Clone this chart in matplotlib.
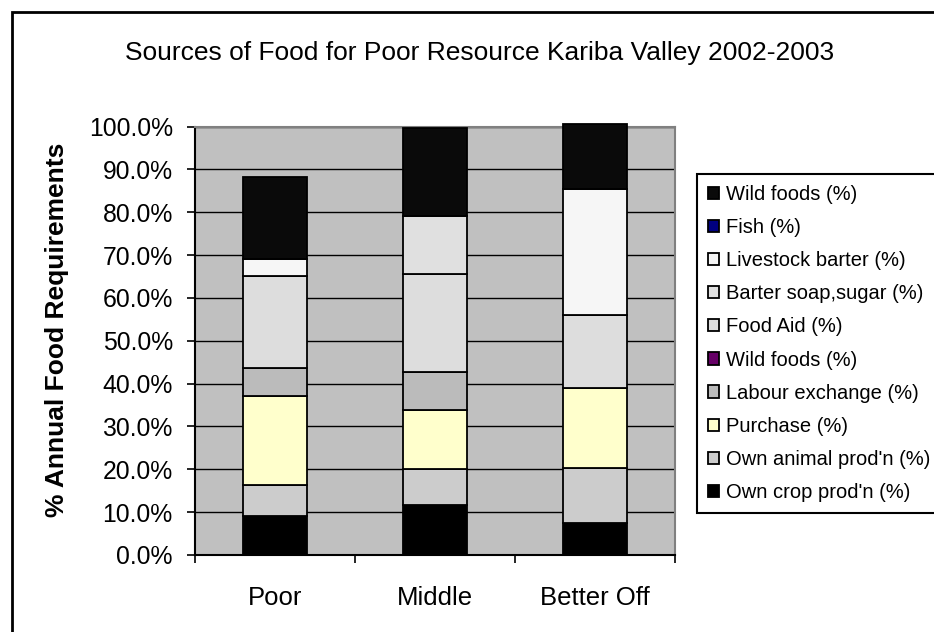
import matplotlib.pyplot as plt
from matplotlib.patches import Rectangle
from matplotlib.ticker import FuncFormatter
import numpy as np

plt.rcParams['font.family'] = ['Liberation Sans', 'DejaVu Sans']

# Wealth groups and food sources (% of annual requirement), bottom to top
groups = ['Poor', 'Middle', 'Better Off']
sources = ["Own crop prod'n (%)", "Own animal prod'n (%)", 'Purchase (%)',
           'Labour exchange (%)', 'Wild foods (%)', 'Food Aid (%)',
           'Barter soap,sugar (%)', 'Livestock barter (%)', 'Fish (%)',
           'Wild foods (%)']
own_crop = [9.0, 11.6, 7.4]
own_animal = [7.3, 8.4, 13.0]
purchase = [20.7, 13.8, 18.6]
labour = [6.7, 8.9, 0.0]
wild_foods_b = [0.0, 0.0, 0.0]
food_aid = [21.4, 22.9, 16.9]
barter_soap = [0.0, 13.4, 0.0]
livestock_barter = [4.0, 0.0, 29.6]
fish = [0.0, 0.0, 0.0]
wild_foods = [19.0, 20.7, 15.2]
colors = ['#000000', '#CCCCCC', '#FFFFCC', '#BBBBBB', '#660066',
          '#DDDDDD', '#E0E0E0', '#F6F6F6', '#000080', '#0A0A0A']

series = [own_crop, own_animal, purchase, labour, wild_foods_b, food_aid,
          barter_soap, livestock_barter, fish, wild_foods]

fig = plt.figure(figsize=(9.34, 6.32), dpi=100)
ax = fig.add_axes([195 / 934, 1 - 555 / 632, 480 / 934, 428.5 / 632])
ax.set_facecolor('#C0C0C0')

x = np.arange(len(groups))
bottom = np.zeros(len(groups))
handles = []
for vals, name, c in zip(series, sources, colors):
    b = ax.bar(x, vals, width=0.4, bottom=bottom, color=c, edgecolor='black',
               linewidth=1.3, label=name, zorder=3, clip_on=False)
    handles.append(b)
    bottom += np.array(vals)

ax.set_xlim(-0.5, 2.5)
ax.set_ylim(0, 100)
ax.set_yticks(np.arange(0, 101, 10))
ax.yaxis.set_major_formatter(FuncFormatter(lambda v, p: f'{v:.1f}%'))
ax.yaxis.grid(True, color='black', linewidth=1.0, zorder=1)
ax.set_axisbelow(True)

ax.set_xticks([-0.5, 0.5, 1.5, 2.5])
ax.set_xticklabels([])
ax.set_xticks(x, minor=True)
ax.set_xticklabels(groups, minor=True)
ax.tick_params(axis='x', which='minor', length=0, pad=22, labelsize=18.5)
ax.tick_params(axis='x', which='major', length=6, width=1.2, direction='out')
ax.tick_params(axis='y', length=6, width=1.2, direction='out', pad=10,
               labelsize=17.8)

for side in ['top', 'right']:
    ax.spines[side].set_color('#808080')
    ax.spines[side].set_linewidth(1.5)
for side in ['left', 'bottom']:
    ax.spines[side].set_color('black')
    ax.spines[side].set_linewidth(1.5)

fig.text(0.513, 1 - 53 / 632, 'Sources of Food for Poor Resource Kariba Valley 2002-2003',
         ha='center', va='center', fontsize=19)
fig.text(57 / 934, 1 - 330 / 632, '% Annual Food Requirements', rotation=90,
         ha='center', va='center', fontsize=19, fontweight='bold')

leg = fig.legend(handles[::-1], sources[::-1], loc='upper left',
                 bbox_to_anchor=(697 / 934, 1 - 174 / 632),
                 bbox_transform=fig.transFigure, fontsize=14.5,
                 frameon=True, fancybox=False, framealpha=1,
                 edgecolor='black', handlelength=0.55, handleheight=0.55,
                 handletextpad=0.35, labelspacing=0.70, borderpad=0.55,
                 borderaxespad=0)
leg.get_frame().set_linewidth(1.5)

# outer chart border (runs off the right and bottom edges)
fig.patches.append(Rectangle((12 / 934, -0.1), 1.2, 1.1 - 12 / 632,
                             transform=fig.transFigure, fill=False,
                             edgecolor='black', linewidth=2))

fig.savefig('out.png', dpi=100)
